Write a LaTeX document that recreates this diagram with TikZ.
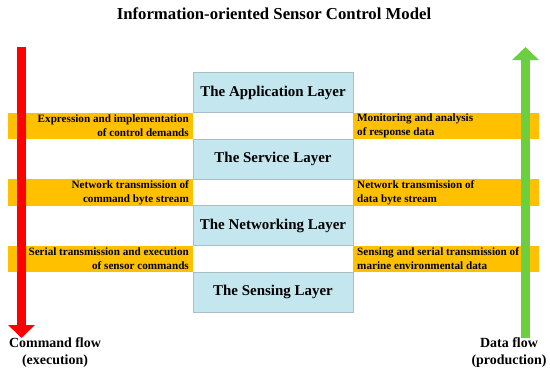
\documentclass[tikz,border=0pt]{standalone}
\usepackage{fontspec}
\setmainfont{Liberation Serif}
\usetikzlibrary{arrows.meta}
\definecolor{bandorange}{HTML}{FFC000}
\definecolor{layerblue}{HTML}{C4E6EE}
\definecolor{layerborder}{HTML}{A9BFC6}
\definecolor{cmdred}{HTML}{FF0000}
\definecolor{datagreen}{HTML}{6CD03E}
\begin{document}
\begin{tikzpicture}[x=1bp,y=-1bp,
  layerbox/.style={draw=layerborder,line width=1bp,fill=layerblue,minimum width=160bp,minimum height=40bp,inner sep=0pt,
    font=\fontsize{15}{17}\selectfont\bfseries},
  bandbox/.style={fill=bandorange,minimum height=26.5bp,inner sep=0pt},
  bandtextL/.style={align=right,anchor=east,inner sep=0pt,font=\fontsize{11.2}{14}\selectfont\bfseries},
  bandtextR/.style={align=left,anchor=west,inner sep=0pt,font=\fontsize{11.2}{14}\selectfont\bfseries},
  flowlabel/.style={align=center,inner sep=0pt,font=\fontsize{14}{17}\selectfont\bfseries},
  flowarrow/.style={line width=9bp,-{Triangle[width=26bp,length=13bp]}}]
\useasboundingbox (0,0) rectangle (550,373);
\fill[white] (0,0) rectangle (550,373);
% title
\node[inner sep=0pt,font=\fontsize{16.8}{20}\selectfont\bfseries] (title) at (274,14) {Information-oriented Sensor Control Model};
% bands
\node[bandbox,minimum width=185bp] (b1l) at (100.5,125.75) {};
\node[bandbox,minimum width=186bp] (b1r) at (446,125.75) {};
\node[bandbox,minimum width=185bp] (b2l) at (100.5,192.25) {};
\node[bandbox,minimum width=186bp] (b2r) at (446,192.25) {};
\node[bandbox,minimum width=185bp] (b3l) at (100.5,258.75) {};
\node[bandbox,minimum width=186bp] (b3r) at (446,258.75) {};
% band texts
\node[bandtextL] (t1l) at (189,126) {Expression and implementation\\of control demands};
\node[bandtextR] (t1r) at (357,126) {Monitoring and analysis\\of response data};
\node[bandtextL] (t2l) at (189,192.5) {Network transmission of\\command byte stream};
\node[bandtextR] (t2r) at (357,192.5) {Network transmission of\\data byte stream};
\node[bandtextL] (t3l) at (189,259) {Serial transmission and execution\\of sensor commands};
\node[bandtextR] (t3r) at (357,259) {Sensing and serial transmission of\\marine environmental data};
% layers
\node[layerbox] (app) at (273,92.5) {The Application Layer};
\node[layerbox] (srv) at (273,159) {The Service Layer};
\node[layerbox] (net) at (273,225.5) {The Networking Layer};
\node[layerbox] (sen) at (273,292) {The Sensing Layer};
% arrows
\coordinate (rtop) at (21.5,47);
\coordinate (rbot) at (21.5,338);
\coordinate (gbot) at (525.5,338);
\coordinate (gtop) at (525.5,47);
\draw[flowarrow,cmdred] (rtop) -- (rbot);
\draw[flowarrow,datagreen] (gbot) -- (gtop);
% flow labels
\node[flowlabel] (cmd) at (55,352.5) {Command flow\\(execution)};
\node[flowlabel] (dat) at (509,352.5) {Data flow\\(production)};
\end{tikzpicture}
\end{document}
